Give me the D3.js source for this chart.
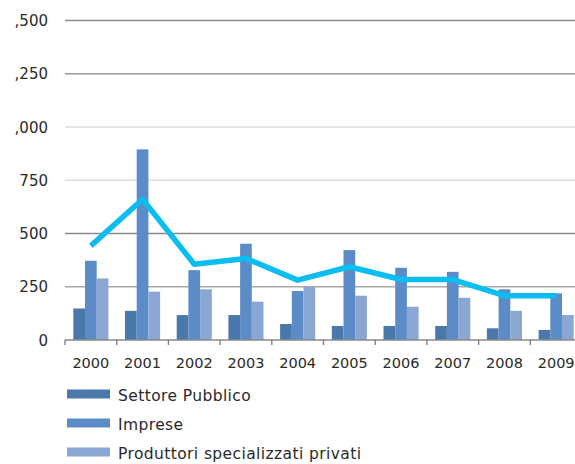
<!DOCTYPE html>
<html>
<head>
<meta charset="utf-8">
<script src="https://cdn.jsdelivr.net/npm/d3@7"></script>
<style>
  html, body { margin: 0; padding: 0; background: #fff; }
  svg { display: block; }
  text { font-family: "DejaVu Sans", sans-serif; fill: #2a2a2a; }
</style>
</head>
<body>
<script>
// Anni di riferimento
const years = ["2000", "2001", "2002", "2003", "2004", "2005", "2006", "2007", "2008", "2009"];

// Serie a barre
const settorePubblico = [148, 137, 117, 117, 75, 66, 66, 66, 55, 47];
const imprese = [372, 895, 328, 452, 230, 422, 339, 320, 238, 219];
const produttoriPrivati = [289, 227, 238, 180, 250, 208, 156, 198, 137, 117];

// Serie a linea
const totaleLinea = [442, 661, 356, 383, 281, 344, 284, 284, 208, 208];

// Tacche dell'asse verticale
const yTicks = [0, 250, 500, 750, 1000, 1250, 1500];

const seriesNames = ["Settore Pubblico", "Imprese", "Produttori specializzati privati"];
const seriesColors = ["#4a78aa", "#5b8cc7", "#8aa7d4"];
const gridColors = { 0: "#8a8a8a", 250: "#a8a8a8", 500: "#8a8a8a", 750: "#dedede", 1000: "#dedede", 1250: "#9a9a9a", 1500: "#8a8a8a" };

const W = 575, H = 464;
const svg = d3.select("body").append("svg").attr("width", W).attr("height", H);

const x0 = d3.scaleBand().domain(years).range([65, 582]).paddingInner(0).paddingOuter(0);
const x1 = d3.scaleBand().domain(seriesNames).range([8.3, 43.4]).padding(0);
const y = d3.scaleLinear().domain([0, 1500]).range([340, 20.5]);

// Griglia orizzontale
svg.append("g").selectAll("line").data(yTicks.filter(t => t > 0)).join("line")
  .attr("x1", 65).attr("x2", W)
  .attr("y1", d => y(d)).attr("y2", d => y(d))
  .attr("stroke", d => gridColors[d]).attr("stroke-width", 1.6);

// Etichette dell'asse verticale (tagliate a sinistra dal bordo)
svg.append("defs").append("clipPath").attr("id", "yclip")
  .append("rect").attr("x", 14.5).attr("y", 0).attr("width", 60).attr("height", H);
svg.append("g").attr("clip-path", "url(#yclip)").selectAll("text").data(yTicks).join("text")
  .attr("x", 48).attr("y", d => y(d) + 5.5)
  .attr("text-anchor", "end").attr("font-size", 15)
  .text(d => d3.format(",")(d));

// Barre
const rows = years.map((yr, i) => ({ yr, vals: [settorePubblico[i], imprese[i], produttoriPrivati[i]] }));
const groups = svg.append("g").selectAll("g").data(rows).join("g")
  .attr("transform", d => `translate(${x0(d.yr)},0)`);
groups.selectAll("rect").data(d => d.vals.map((v, k) => ({ name: seriesNames[k], v, k }))).join("rect")
  .attr("x", d => x1(d.name)).attr("width", x1.bandwidth())
  .attr("y", d => y(d.v)).attr("height", d => y(0) - y(d.v))
  .attr("fill", d => seriesColors[d.k]);

// Asse orizzontale
const xAxis = svg.append("g");
xAxis.append("line").attr("x1", 65).attr("x2", W).attr("y1", y(0)).attr("y2", y(0))
  .attr("stroke", "#8a8a8a").attr("stroke-width", 1.6);
xAxis.selectAll("line.tick").data(years).join("line").attr("class", "tick")
  .attr("x1", d => x0(d)).attr("x2", d => x0(d))
  .attr("y1", y(0)).attr("y2", y(0) + 5)
  .attr("stroke", "#7a7a7a").attr("stroke-width", 1.3);
xAxis.selectAll("text").data(years).join("text")
  .attr("x", d => x0(d) + x0.bandwidth() / 2).attr("y", 368)
  .attr("text-anchor", "middle").attr("font-size", 14.5)
  .text(d => d);

// Linea
const line = d3.line().x((d, i) => x0(years[i]) + x0.bandwidth() / 2).y(d => y(d));
svg.append("path").datum(totaleLinea)
  .attr("d", line).attr("fill", "none")
  .attr("stroke", "#0bbdf1").attr("stroke-width", 5.5).attr("stroke-linejoin", "round");

// Legenda
const leg = svg.append("g").selectAll("g").data(seriesNames).join("g")
  .attr("transform", (d, i) => `translate(0,${394 + i * 29})`);
leg.append("rect").attr("x", 67).attr("y", -4.5).attr("width", 43).attr("height", 9)
  .attr("fill", (d, i) => seriesColors[i]);
leg.append("text").attr("x", 118).attr("y", 7).attr("font-size", 15.5)
  .attr("letter-spacing", 0.4).text(d => d);
</script>
</body>
</html>
